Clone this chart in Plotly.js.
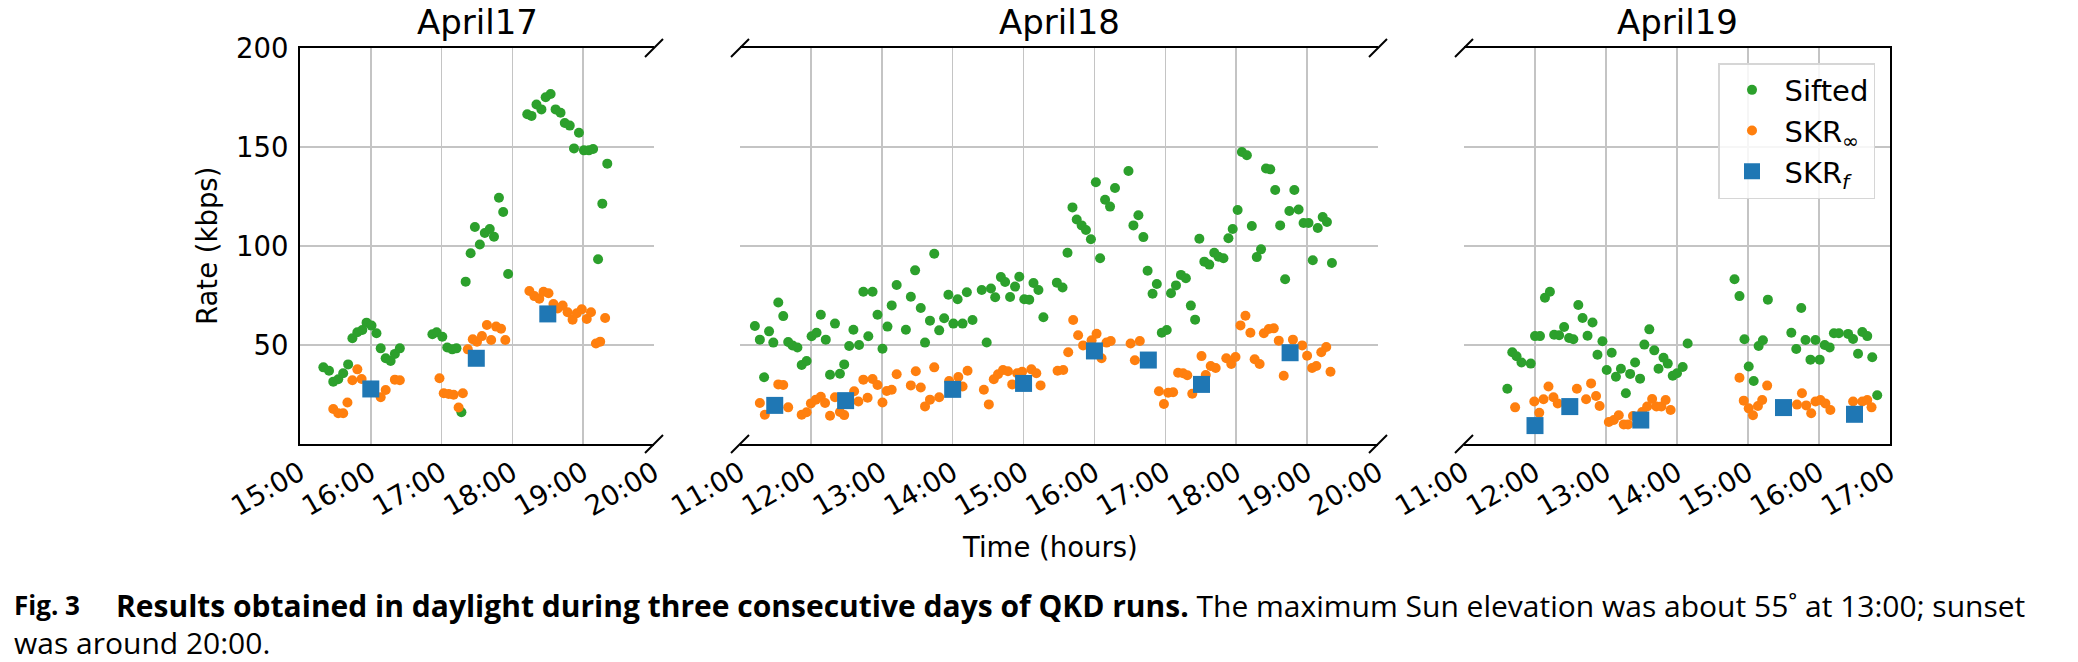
<!DOCTYPE html>
<html>
<head>
<meta charset="utf-8">
<script src="https://cdn.plot.ly/plotly-3.0.1.min.js"></script>
<style>
  html, body { margin: 0; padding: 0; background: #fff; }
  #chart { width: 2078px; height: 662px; }
</style>
</head>
<body>
<div id="chart"></div>
<script>
// ---- data (time in decimal hours, rate in kbps) ----
var sifted17T = [15.33,15.41,15.47,15.54,15.61,15.68,15.74,15.81,15.88,15.94,16.01,16.08,16.14,16.21,16.28,16.34,16.41,16.87,16.93,17.01,17.08,17.15,17.21,17.28,17.34,17.41,17.47,17.54,17.61,17.68,17.74,17.81,17.87,17.94,18.21,18.27,18.34,18.41,18.47,18.54,18.61,18.68,18.74,18.81,18.87,18.94,19.01,19.08,19.14,19.21,19.27,19.34];
var sifted17V = [38.7,37.0,31.5,32.7,35.7,40.2,53.4,56.4,57.6,61.3,59.8,55.9,48.3,43.3,41.9,45.5,48.3,55.4,56.4,54.2,48.7,47.8,48.3,16.0,82.0,96.3,109.6,100.8,106.6,108.6,104.7,124.4,117.2,85.9,166.5,165.7,171.5,169.0,175.1,176.8,169.0,167.3,162.1,160.8,149.3,157.2,148.3,148.3,149.0,93.3,121.4,141.6];
var skrInf17T = [15.47,15.54,15.61,15.67,15.74,15.81,15.87,16.14,16.21,16.34,16.41,16.97,17.03,17.10,17.17,17.24,17.30,17.37,17.44,17.50,17.57,17.64,17.70,17.77,17.84,17.90,18.24,18.31,18.38,18.44,18.51,18.58,18.64,18.71,18.78,18.85,18.91,18.98,19.05,19.11,19.18,19.24,19.31];
var skrInf17V = [17.7,15.5,15.5,21.0,32.2,37.7,32.8,23.6,27.3,32.5,32.2,33.2,25.6,25.3,24.9,18.4,25.6,47.8,52.9,51.7,54.5,60.1,52.5,59.3,58.2,52.5,77.3,74.7,73.4,76.9,76.1,70.7,68.4,69.9,66.5,62.8,66.0,68.0,63.1,66.5,50.8,51.7,63.6];
var skrF17T = [16.0, 17.49, 18.5];
var skrF17V = [27.8, 43.3, 65.7];

var sifted18T = [11.21,11.28,11.34,11.41,11.47,11.54,11.61,11.68,11.74,11.81,11.87,11.94,12.01,12.08,12.14,12.21,12.27,12.34,12.41,12.47,12.54,12.60,12.68,12.74,12.81,12.87,12.94,13.01,13.08,13.14,13.21,13.34,13.41,13.47,13.55,13.61,13.68,13.74,13.81,13.88,13.94,14.01,14.07,14.14,14.20,14.28,14.41,14.48,14.54,14.60,14.68,14.74,14.81,14.88,14.94,15.01,15.08,15.14,15.21,15.28,15.47,
  15.55,15.62,15.69,15.75,15.82,15.88,15.95,16.02,16.08,16.15,16.22,16.29,16.48,16.55,16.62,16.69,16.75,16.82,16.88,16.95,17.02,17.08,17.15,17.22,17.29,17.36,17.42,17.48,17.55,17.62,17.69,17.75,17.82,17.89,17.95,18.02,18.08,18.15,18.22,18.29,18.35,18.42,18.48,18.55,18.62,18.69,18.75,18.82,18.88,18.95,19.02,19.08,19.15,19.22,19.28,19.35];
var sifted18V = [59.6,52.7,33.7,56.9,51.2,71.5,64.6,51.5,49.8,48.7,39.9,41.9,54.4,56.2,65.3,52.7,35.0,60.8,35.5,40.2,49.5,57.7,50.0,76.9,54.4,76.9,65.3,48.1,59.3,70.0,80.3,57.7,74.4,87.7,68.7,51.2,62.3,96.1,57.4,63.5,75.4,60.8,73.1,60.8,76.6,62.6,77.8,51.3,78.5,74.1,84.3,81.8,74.2,79.5,84.5,73.1,72.9,81.3,77.8,64.0,81.5,
  79.0,96.6,119.5,113.4,110.4,108.1,103.4,132.2,93.8,123.4,119.9,129.3,137.9,110.4,115.5,104.5,87.5,75.9,80.8,56.2,57.6,76.1,80.1,85.4,83.7,69.9,62.8,103.7,92.1,90.6,96.6,94.6,93.8,103.9,108.6,118.2,147.5,145.8,110.1,94.4,98.3,139.1,138.7,128.3,110.4,83.2,117.7,128.3,118.4,111.6,111.6,92.8,109.1,114.6,112.1,91.4];
var skrInf18T = [11.28,11.35,11.54,11.61,11.68,11.87,11.94,12.00,12.07,12.14,12.20,12.27,12.34,12.41,12.47,12.61,12.67,12.74,12.80,12.87,12.94,13.01,13.07,13.14,13.21,13.41,13.48,13.55,13.61,13.68,13.74,13.81,13.95,14.08,14.14,14.21,14.44,14.51,14.58,14.64,14.71,14.78,14.84,14.91,14.98,15.11,15.18,15.24,15.48,
  15.56,15.63,15.70,15.77,15.84,15.96,16.03,16.10,16.17,16.23,16.51,16.57,16.64,16.91,16.98,17.04,17.11,17.18,17.25,17.31,17.38,17.51,17.57,17.64,17.71,17.86,17.93,17.99,18.06,18.13,18.20,18.26,18.33,18.39,18.46,18.53,18.60,18.67,18.80,18.93,19.00,19.07,19.13,19.20,19.27,19.33];
var skrInf18V = [20.7,14.8,30.1,29.8,18.5,14.8,16.0,20.5,22.4,23.9,20.7,14.3,23.6,16.2,14.6,26.6,21.5,32.5,23.4,32.8,29.8,21.0,26.8,27.4,35.2,29.6,36.7,28.5,19.0,22.4,38.7,23.6,31.8,33.8,29.0,37.0,27.4,20.0,32.7,35.2,37.4,36.7,30.1,35.7,36.5,37.7,35.7,29.6,37.0,
  37.4,46.3,62.6,54.9,49.8,52.4,55.7,43.3,51.2,52.0,50.8,42.3,52.0,26.6,20.2,25.9,26.1,36.0,35.7,34.7,25.4,44.4,34.8,39.4,38.4,43.3,40.4,43.9,59.9,64.8,56.2,42.8,40.4,55.9,58.1,58.4,52.2,34.5,52.7,49.8,44.6,38.4,39.4,46.3,49.0,36.5];
var skrF18T = [11.49, 12.49, 14.0, 15.0, 16.0, 16.76, 17.51, 18.76];
var skrF18V = [19.5, 21.9, 27.6, 30.6, 47.0, 42.4, 30.1, 46.1];

var sifted19T = [11.61,11.68,11.74,11.81,11.94,12.00,12.07,12.14,12.21,12.27,12.34,12.41,12.48,12.54,12.61,12.67,12.74,12.81,12.88,12.95,13.01,13.08,13.14,13.21,13.28,13.34,13.41,13.48,13.54,13.61,13.68,13.74,13.81,13.87,13.94,14.00,14.08,14.15,
  14.81,14.88,14.95,15.01,15.08,15.15,15.21,15.28,15.61,15.68,15.75,15.81,15.88,15.95,16.01,16.08,16.15,16.21,16.28,16.41,16.48,16.55,16.61,16.68,16.75,16.82];
var sifted19V = [27.9,46.3,44.3,41.2,40.6,54.5,54.5,73.9,76.9,55.2,54.9,59.1,53.5,52.9,70.2,63.6,54.7,61.4,45.1,51.9,37.4,46.1,34.0,38.0,25.6,35.4,41.2,33.0,50.2,57.9,47.3,38.0,43.6,40.6,34.5,35.7,38.9,50.8,
  83.2,74.7,52.9,39.1,31.8,49.5,52.4,72.9,56.2,48.0,68.7,52.5,42.6,52.5,42.6,50.0,48.8,55.9,55.9,55.6,53.0,45.6,56.6,54.5,43.8,24.6];
var skrInf19T = [11.72,11.99,12.06,12.12,12.19,12.26,12.32,12.59,12.72,12.79,12.86,12.91,13.04,13.11,13.18,13.25,13.31,13.38,13.51,13.58,13.65,13.71,13.78,13.84,13.91,
  14.88,14.94,15.01,15.07,15.14,15.20,15.27,15.69,15.76,15.82,15.89,15.95,16.02,16.09,16.16,16.48,16.61,16.68,16.74];
var skrInf19V = [18.5,21.5,15.8,22.6,29.0,23.6,20.5,27.9,22.6,30.6,24.2,19.2,11.1,12.1,14.5,9.9,9.9,14.1,16.2,18.9,22.7,18.9,18.9,22.2,17.2,
  33.5,21.9,18.0,14.5,19.2,22.2,29.5,19.9,25.6,19.5,15.5,21.5,22.2,20.5,17.2,21.5,21.5,22.2,18.5];
var skrF19T = [12.0, 12.49, 13.49, 15.5, 16.5];
var skrF19V = [9.3, 18.9, 12.1, 18.4, 15.0];

var dayTitles = ['April17', 'April18', 'April19'];
var ticks17 = [15, 16, 17, 18, 19, 20];
var tickText17 = ['15:00', '16:00', '17:00', '18:00', '19:00', '20:00'];
var ticks18 = [11, 12, 13, 14, 15, 16, 17, 18, 19, 20];
var tickText18 = ['11:00', '12:00', '13:00', '14:00', '15:00', '16:00', '17:00', '18:00', '19:00', '20:00'];
var ticks19 = [11, 12, 13, 14, 15, 16, 17];
var tickText19 = ['11:00', '12:00', '13:00', '14:00', '15:00', '16:00', '17:00'];
var rateTicks = [50, 100, 150, 200];

// ---- figure geometry ----
var W = 2078, H = 662;
var doms = [[300 / W, 654 / W], [740 / W, 1378 / W], [1464 / W, 1890 / W]];
var yDom = [1 - 444 / H, 1 - 48 / H];

var green = '#2ca02c', orange = '#ff7f0e', blue = '#1f77b4';
var tickFont = { family: 'DejaVu Sans', size: 27.5, color: '#000' };

function traces(sT, sV, iT, iV, fT, fV, xa, ya, legend) {
    return [
        { x: sT, y: sV, xaxis: xa, yaxis: ya, type: 'scatter', mode: 'markers', name: 'Sifted',
          showlegend: legend, marker: { color: green, size: 10 } },
        { x: iT, y: iV, xaxis: xa, yaxis: ya, type: 'scatter', mode: 'markers', name: 'SKR<sub>∞</sub>',
          showlegend: legend, marker: { color: orange, size: 10 } },
        { x: fT, y: fV, xaxis: xa, yaxis: ya, type: 'scatter', mode: 'markers', name: 'SKR<sub><i>f</i></sub>',
          showlegend: legend, marker: { color: blue, size: 17, symbol: 'square' } }
    ];
}

var data = [].concat(
    traces(sifted17T, sifted17V, skrInf17T, skrInf17V, skrF17T, skrF17V, 'x', 'y', true),
    traces(sifted18T, sifted18V, skrInf18T, skrInf18V, skrF18T, skrF18V, 'x2', 'y2', false),
    traces(sifted19T, sifted19V, skrInf19T, skrInf19V, skrF19T, skrF19V, 'x3', 'y3', false)
);

function xAxis(dom, range, vals, text, anchor) {
    return {
        domain: dom, range: range, anchor: anchor,
        tickvals: vals, ticktext: text, tickangle: -30, tickfont: tickFont,
        ticks: '', showgrid: true, gridcolor: '#c4c4c4', gridwidth: 1.5,
        showline: true, mirror: true, linecolor: '#000', linewidth: 2,
        zeroline: false, fixedrange: true
    };
}
function yAxis(anchor, labels, line, side) {
    return {
        domain: yDom, range: [0, 200], anchor: anchor, side: side,
        tickvals: rateTicks, showticklabels: labels, tickfont: tickFont, ticks: '',
        ticklabelstandoff: 4,
        showgrid: true, gridcolor: '#c4c4c4', gridwidth: 1.5,
        showline: line, linecolor: '#000', linewidth: 2, zeroline: false, fixedrange: true
    };
}

// diagonal "/" break marks at the cut edges
var shapes = [];
var dx = 9 / W, dy = 9 / H;
function brk(xp) {
    [yDom[0], yDom[1]].forEach(function (yp) {
        shapes.push({ type: 'line', xref: 'paper', yref: 'paper',
            x0: xp - dx, x1: xp + dx, y0: yp - dy, y1: yp + dy,
            line: { color: '#000', width: 2 } });
    });
}
brk(doms[0][1]); brk(doms[1][0]); brk(doms[1][1]); brk(doms[2][0]);

var capFont = { family: 'Open Sans', size: 30, color: '#000' };

var annotations = dayTitles.map(function (t, i) {
    return { text: t, xref: 'paper', yref: 'paper', x: (doms[i][0] + doms[i][1]) / 2, y: 1 - 22 / H,
             xanchor: 'center', yanchor: 'middle', showarrow: false,
             font: { family: 'DejaVu Sans', size: 34, color: '#000' } };
});
annotations.push(
    { text: 'Rate (kbps)', xref: 'paper', yref: 'paper', x: 207 / W, y: 1 - 246 / H, textangle: -90,
      xanchor: 'center', yanchor: 'middle', showarrow: false,
      font: { family: 'DejaVu Sans', size: 27.5, color: '#000' } },
    { text: 'Time (hours)', xref: 'paper', yref: 'paper', x: 1050 / W, y: 1 - 547 / H,
      xanchor: 'center', yanchor: 'middle', showarrow: false,
      font: { family: 'DejaVu Sans', size: 27.5, color: '#000' } },
    { text: '<b>Fig. 3</b>', xref: 'paper', yref: 'paper', x: 12 / W, y: 1 - 605 / H,
      xanchor: 'left', yanchor: 'middle', showarrow: false,
      font: { family: 'Open Sans', size: 26, color: '#000' } },
    { text: '<b>Results obtained in daylight during three consecutive days of QKD runs.</b> The maximum Sun elevation was about 55˚ at 13:00; sunset',
      xref: 'paper', yref: 'paper', x: 114 / W, y: 1 - 605 / H, xanchor: 'left', yanchor: 'middle',
      showarrow: false, font: capFont },
    { text: 'was around 20:00.', xref: 'paper', yref: 'paper', x: 12 / W, y: 1 - 642 / H,
      xanchor: 'left', yanchor: 'middle', showarrow: false, font: capFont }
);

var layout = {
    width: W, height: H,
    margin: { l: 0, r: 0, t: 0, b: 0 },
    paper_bgcolor: '#fff', plot_bgcolor: '#fff',
    font: { family: 'DejaVu Sans', color: '#000' },
    xaxis: xAxis(doms[0], [15, 20], ticks17, tickText17, 'y'),
    xaxis2: xAxis(doms[1], [11, 20], ticks18, tickText18, 'y2'),
    xaxis3: xAxis(doms[2], [11, 17], ticks19, tickText19, 'y3'),
    yaxis: yAxis('x', true, true, 'left'),
    yaxis2: yAxis('x2', false, false, 'left'),
    yaxis3: yAxis('x3', false, true, 'right'),
    showlegend: true,
    legend: {
        x: 1875 / W, xanchor: 'right', y: 1 - 63 / H, yanchor: 'top',
        bgcolor: 'rgba(255,255,255,0.85)', bordercolor: '#d6d6d6', borderwidth: 1.5,
        font: { family: 'DejaVu Sans', size: 29, color: '#000' },
        itemsizing: 'trace', tracegroupgap: 0, itemwidth: 55
    },
    shapes: shapes,
    annotations: annotations
};

Plotly.newPlot('chart', data, layout, { staticPlot: true, displayModeBar: false });
</script>
</body>
</html>
